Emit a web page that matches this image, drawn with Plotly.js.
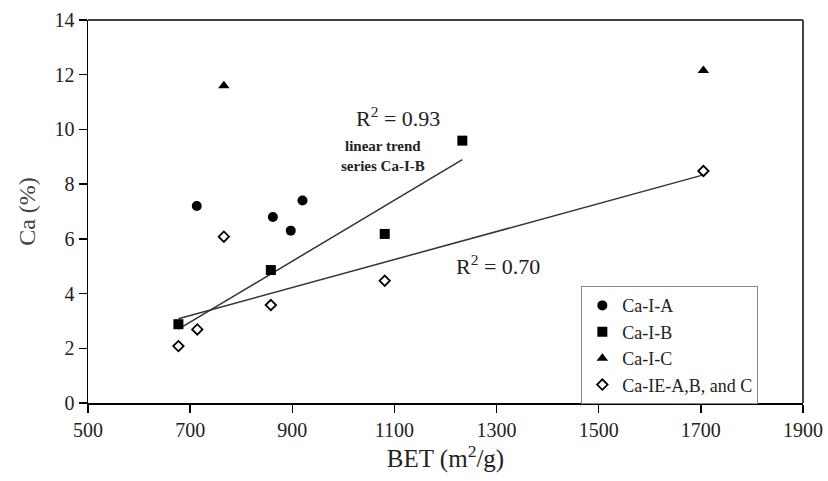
<!DOCTYPE html>
<html>
<head>
<meta charset="utf-8">
<script src="https://cdn.plot.ly/plotly-3.0.1.min.js"></script>
<style>
  html, body { margin: 0; padding: 0; background: #fff; }
  #chart { width: 828px; height: 481px; }
</style>
</head>
<body>
<div id="chart"></div>
<script>
// BET surface area (m2/g) versus Ca loading (%) for each sorbent series
const caIA_bet = [713, 862, 897, 920];
const caIA_ca  = [7.2, 6.8, 6.3, 7.4];

const caIB_bet = [677, 858, 1081, 1233];
const caIB_ca  = [2.88, 4.86, 6.18, 9.59];

const caIC_bet = [766, 1705];
const caIC_ca  = [11.6, 12.15];

const caIE_bet = [677, 714, 766, 858, 1081, 1705];
const caIE_ca  = [2.08, 2.69, 6.08, 3.58, 4.47, 8.48];

const xTicks = [500, 700, 900, 1100, 1300, 1500, 1700, 1900];
const yTicks = [0, 2, 4, 6, 8, 10, 12, 14];

// ordinary least-squares fit, returns the line over the data's x span
function linearTrend(xs, ys) {
  const n = xs.length;
  const mx = xs.reduce((a, b) => a + b, 0) / n;
  const my = ys.reduce((a, b) => a + b, 0) / n;
  let sxy = 0, sxx = 0;
  for (let i = 0; i < n; i++) {
    sxy += (xs[i] - mx) * (ys[i] - my);
    sxx += (xs[i] - mx) * (xs[i] - mx);
  }
  const slope = sxy / sxx;
  const x0 = Math.min(...xs), x1 = Math.max(...xs);
  return { x: [x0, x1], y: [my + slope * (x0 - mx), my + slope * (x1 - mx)] };
}

const fitB = linearTrend(caIB_bet, caIB_ca);
const fitE = linearTrend(caIE_bet, caIE_ca);

const serif = 'Liberation Serif, Times New Roman, serif';

const traces = [
  { x: fitB.x, y: fitB.y, mode: 'lines', showlegend: false, hoverinfo: 'skip',
    line: { color: '#333', width: 1.5 } },
  { x: fitE.x, y: fitE.y, mode: 'lines', showlegend: false, hoverinfo: 'skip',
    line: { color: '#333', width: 1.5 } },
  { x: caIA_bet, y: caIA_ca, mode: 'markers', name: 'Ca-I-A',
    marker: { symbol: 'circle', size: 10, color: '#000' } },
  { x: caIB_bet, y: caIB_ca, mode: 'markers', name: 'Ca-I-B',
    marker: { symbol: 'square', size: 10, color: '#000' } },
  { x: caIC_bet, y: caIC_ca, mode: 'markers', name: 'Ca-I-C',
    marker: { symbol: 'triangle-up', size: 10, color: '#000' } },
  { x: caIE_bet, y: caIE_ca, mode: 'markers', name: 'Ca-IE-A,B, and C',
    marker: { symbol: 'diamond-open', size: 8, color: '#000', line: { width: 1.8, color: '#000' } } }
];

const layout = {
  width: 828, height: 481,
  margin: { l: 88, r: 25, t: 20, b: 78 },
  paper_bgcolor: '#fff', plot_bgcolor: '#fff',
  font: { family: serif, size: 20, color: '#222' },
  showlegend: true,
  xaxis: {
    range: [500, 1900], tickvals: xTicks, ticktext: xTicks.map(String),
    showgrid: false, zeroline: false, showline: true, linecolor: '#000', linewidth: 1.5,
    ticks: 'outside', ticklen: 8, tickwidth: 1.5, tickcolor: '#000',
    ticklabelstandoff: 0,
    tickfont: { family: serif, size: 20, color: '#222' },
    title: { text: 'BET (m<sup>2</sup>/g)', font: { family: serif, size: 25, color: '#222' }, standoff: 3 }
  },
  yaxis: {
    range: [0, 14], tickvals: yTicks, ticktext: yTicks.map(String),
    showgrid: false, zeroline: false, showline: true, linecolor: '#000', linewidth: 1.5,
    ticks: 'outside', ticklen: 8, tickwidth: 1.5, tickcolor: '#000',
    tickfont: { family: serif, size: 20, color: '#222' },
    title: { text: 'Ca (%)', font: { family: serif, size: 24, color: '#444' }, standoff: 12 }
  },
  shapes: [
    { type: 'line', xref: 'paper', yref: 'paper', x0: 0, x1: 1, y0: 1, y1: 1,
      line: { color: '#444', width: 2 } },
    { type: 'line', xref: 'paper', yref: 'paper', x0: 1, x1: 1, y0: 0, y1: 1,
      line: { color: '#444', width: 2 } }
  ],
  legend: {
    x: 0.69, y: 0.305, xanchor: 'left', yanchor: 'top',
    bgcolor: '#fff', bordercolor: '#888', borderwidth: 1,
    font: { family: serif, size: 18, color: '#222' },
    itemwidth: 30, tracegroupgap: 0
  },
  annotations: [
    { x: 1107, y: 10.46, text: 'R<sup>2</sup> = 0.93', showarrow: false,
      font: { family: serif, size: 22, color: '#222' } },
    { x: 1077, y: 9.02, text: '<b>linear trend<br>series Ca-I-B</b>', showarrow: false,
      font: { family: serif, size: 15, color: '#222' } },
    { x: 1303, y: 5.06, text: 'R<sup>2</sup> = 0.70', showarrow: false,
      font: { family: serif, size: 22, color: '#222' } }
  ]
};

Plotly.newPlot('chart', traces, layout, { staticPlot: true });
</script>
</body>
</html>
